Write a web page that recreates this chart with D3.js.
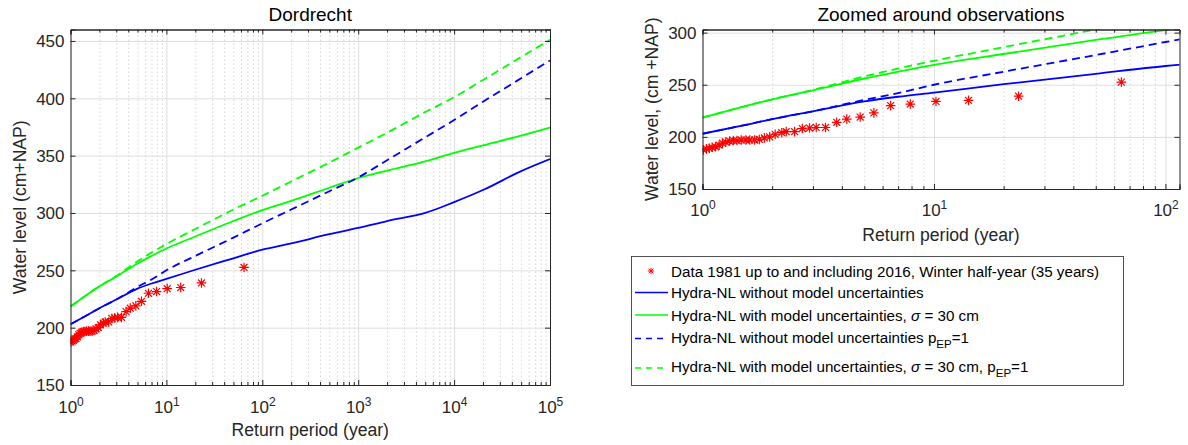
<!DOCTYPE html>
<html>
<head>
<meta charset="utf-8">
<script src="https://cdn.jsdelivr.net/npm/d3@7"></script>
<style>
  body { margin: 0; background: #fff; }
  svg { font-family: "Liberation Sans", Arial, Helvetica, sans-serif; }
</style>
</head>
<body>
<svg id="chart" width="1188" height="445"></svg>
<script>
const returnPeriod = [1, 1.5, 2, 3, 5, 7, 10, 20, 50, 100, 200, 500, 1000, 2000, 5000, 10000, 20000, 50000, 100000];

// Water levels (cm+NAP)
const hydraNoUnc    = [203, 211, 217, 224.5, 234, 238.5, 242.5, 250.5, 260.5, 268, 273.5, 281.5, 287, 293, 300, 309.5, 320, 336.5, 347];
const hydraUnc      = [218.5, 229, 236, 244.5, 256, 262.5, 269, 279.5, 293, 302.5, 310.5, 322, 330.5, 337, 345, 352.5, 359, 367.5, 374.5];
const hydraNoUncPep = [203, 211, 217, 224.5, 235.5, 242, 250, 262.5, 278.5, 291, 303, 319, 331, 346, 366, 381, 397, 417.5, 433];
const hydraUncPep   = [218.5, 229, 236, 245, 258, 265.5, 273, 286, 303, 315, 327.5, 344, 357, 370, 388, 401, 416, 436, 451];

// Observed winter maxima 1981-2016 with their empirical return periods
const obsPeriod = [64.5, 23.2, 14.1, 10.2, 7.9, 6.5, 5.5, 4.8, 4.2, 3.8, 3.4, 3.1, 2.9, 2.7, 2.5, 2.3, 2.2, 2.06,
  1.95, 1.85, 1.76, 1.68, 1.6, 1.54, 1.47, 1.41, 1.36, 1.31, 1.26, 1.22, 1.18, 1.14, 1.1, 1.07, 1.04, 1.01];
const obsLevel = [252.5, 239, 235, 234, 231.5, 230, 223, 219, 217, 214, 209, 209, 208.5, 208, 205, 205, 204, 202.5,
  200, 199, 197.5, 197, 197, 197, 197, 196.5, 196.5, 196, 195, 194, 192, 190.5, 190, 189, 188.5, 187.5];

const legendLabels = [
  "Data 1981 up to and including 2016, Winter half-year (35 years)",
  "Hydra-NL without model uncertainties",
  "Hydra-NL with model uncertainties, ",
  "Hydra-NL without model uncertainties p",
  "Hydra-NL with model uncertainties, "
];

const series = [
  { values: hydraNoUnc, color: "#0000ff", dash: null },
  { values: hydraUnc, color: "#00ff00", dash: null },
  { values: hydraNoUncPep, color: "#0000ff", dash: "8,5" },
  { values: hydraUncPep, color: "#00ff00", dash: "8,5" }
];

const svg = d3.select("#chart");
const axisColor = "#262626";
const tickFont = 17;

// MATLAB-like asterisk marker
function asterisk(r) {
  const d = r * 0.72;
  return `M${-r},0H${r}M0,${-r}V${r}M${-d},${-d}L${d},${d}M${-d},${d}L${d},${-d}`;
}

function drawPanel(p) {
  const g = svg.append("g");
  const x = d3.scaleLog().domain(p.xDomain).range([p.left, p.right]);
  const y = d3.scaleLinear().domain(p.yDomain).range([p.bottom, p.top]);
  const w = p.right - p.left;
  const h = p.bottom - p.top;

  const majorX = [];
  const minorX = [];
  for (let e = 0; Math.pow(10, e) <= p.xDomain[1]; e++) {
    majorX.push(Math.pow(10, e));
    for (let k = 2; k <= 9; k++) {
      const v = k * Math.pow(10, e);
      if (v < p.xDomain[1]) minorX.push(v);
    }
  }

  // grid
  g.append("g").attr("transform", `translate(0,${p.bottom})`)
    .call(d3.axisBottom(x).tickValues(minorX).tickSize(-h).tickFormat(""))
    .call(a => a.select(".domain").remove())
    .selectAll("line").attr("stroke", "#d6d6d6").attr("stroke-dasharray", "1.5,2.5");
  g.append("g").attr("transform", `translate(0,${p.bottom})`)
    .call(d3.axisBottom(x).tickValues(majorX).tickSize(-h).tickFormat(""))
    .call(a => a.select(".domain").remove())
    .selectAll("line").attr("stroke", "#dfdfdf");
  g.append("g").attr("transform", `translate(${p.left},0)`)
    .call(d3.axisLeft(y).tickValues(p.yTicks).tickSize(-w).tickFormat(""))
    .call(a => a.select(".domain").remove())
    .selectAll("line").attr("stroke", "#dfdfdf");

  // data
  const clipId = "clip-" + p.id;
  svg.append("clipPath").attr("id", clipId)
    .append("rect").attr("x", p.left).attr("y", p.top).attr("width", w).attr("height", h);
  const plot = g.append("g").attr("clip-path", `url(#${clipId})`);

  const line = d3.line()
    .x((d, i) => x(returnPeriod[i]))
    .y(d => y(d))
    .curve(d3.curveMonotoneX);

  series.forEach(s => {
    plot.append("path")
      .attr("d", line(s.values))
      .attr("fill", "none")
      .attr("stroke", s.color)
      .attr("stroke-width", 1.8)
      .attr("stroke-dasharray", s.dash);
  });

  plot.selectAll(".obs")
    .data(obsLevel)
    .enter()
    .append("path")
    .attr("class", "obs")
    .attr("transform", (d, i) => `translate(${x(obsPeriod[i])},${y(d)})`)
    .attr("d", asterisk(4.8))
    .attr("stroke", "#ff0000")
    .attr("stroke-width", 1.2)
    .attr("fill", "none");

  // axes (ticks pointing inwards, mirrored on top and right)
  const styleAxis = a => {
    a.select(".domain").attr("stroke", axisColor);
    a.selectAll(".tick line").attr("stroke", axisColor);
  };

  g.append("g").attr("transform", `translate(0,${p.bottom})`)
    .call(d3.axisBottom(x).tickValues(minorX).tickSize(-3).tickFormat(""))
    .call(styleAxis);
  g.append("g").attr("transform", `translate(0,${p.top})`)
    .call(d3.axisTop(x).tickValues(minorX).tickSize(-3).tickFormat(""))
    .call(styleAxis);
  g.append("g").attr("transform", `translate(0,${p.top})`)
    .call(d3.axisTop(x).tickValues(majorX).tickSize(-5).tickFormat(""))
    .call(styleAxis);
  g.append("g").attr("transform", `translate(${p.right},0)`)
    .call(d3.axisRight(y).tickValues(p.yTicks).tickSize(-5).tickFormat(""))
    .call(styleAxis);

  g.append("g").attr("transform", `translate(${p.left},0)`)
    .call(d3.axisLeft(y).tickValues(p.yTicks).tickSize(-5).tickPadding(6))
    .call(styleAxis)
    .call(a => a.selectAll(".tick text")
      .attr("fill", axisColor)
      .attr("font-size", tickFont)
      .attr("font-family", null)
      .attr("dy", "0.34em"));

  g.append("g").attr("transform", `translate(0,${p.bottom})`)
    .call(d3.axisBottom(x).tickValues(majorX).tickSize(-5).tickFormat(() => ""))
    .call(styleAxis)
    .call(a => a.selectAll(".tick text")
      .attr("fill", axisColor)
      .attr("font-size", tickFont)
      .attr("font-family", null)
      .attr("dy", null)
      .attr("y", p.xTickBaseline)
      .each(function (d) {
        const t = d3.select(this);
        t.append("tspan").text("10");
        t.append("tspan").attr("dy", -7).attr("font-size", 12).text(Math.round(Math.log10(d)));
      }));

  // titles and axis labels
  g.append("text")
    .attr("x", (p.left + p.right) / 2)
    .attr("y", p.titleBaseline)
    .attr("text-anchor", "middle")
    .attr("font-size", 19)
    .attr("fill", "#000")
    .text(p.title);

  g.append("text")
    .attr("x", (p.left + p.right) / 2)
    .attr("y", p.xLabelBaseline)
    .attr("text-anchor", "middle")
    .attr("font-size", 17.6)
    .attr("fill", axisColor)
    .text("Return period (year)");

  g.append("text")
    .attr("transform", `translate(${p.yLabelX},${(p.top + p.bottom) / 2}) rotate(-90)`)
    .attr("text-anchor", "middle")
    .attr("font-size", 17.6)
    .attr("fill", axisColor)
    .text(p.yLabel);
}

drawPanel({
  id: "full", left: 70.5, right: 550, top: 29.5, bottom: 385,
  xDomain: [1, 1e5], yDomain: [150, 460], yTicks: d3.range(150, 451, 50),
  title: "Dordrecht", titleBaseline: 21,
  xTickBaseline: 28, xLabelBaseline: 436,
  yLabel: "Water level (cm+NAP)", yLabelX: 26
});

drawPanel({
  id: "zoom", left: 702.5, right: 1179.5, top: 29.5, bottom: 189,
  xDomain: [1, 115], yDomain: [150, 303], yTicks: d3.range(150, 301, 50),
  title: "Zoomed around observations", titleBaseline: 21,
  xTickBaseline: 27, xLabelBaseline: 241,
  yLabel: "Water level, (cm +NAP)", yLabelX: 658
});

// legend
const legend = svg.append("g");
legend.append("rect")
  .attr("x", 631.5).attr("y", 256.5).attr("width", 492).attr("height", 129)
  .attr("fill", "#fff").attr("stroke", axisColor).attr("stroke-width", 0.8);

const rowLine = [271, 292.5, 315, 338.5, 368];
const rowText = [276.5, 298, 320.5, 343, 372];

legend.append("path")
  .attr("transform", `translate(651,${rowLine[0]})`)
  .attr("d", asterisk(3.2))
  .attr("stroke", "#ff0000")
  .attr("stroke-width", 1)
  .attr("fill", "none");

series.forEach((s, i) => {
  legend.append("line")
    .attr("x1", 635).attr("x2", 668)
    .attr("y1", rowLine[i + 1]).attr("y2", rowLine[i + 1])
    .attr("stroke", s.color)
    .attr("stroke-width", 1.6)
    .attr("stroke-dasharray", s.dash ? "6,5" : null);
});

legendLabels.forEach((label, i) => {
  const t = legend.append("text")
    .attr("x", 671).attr("y", rowText[i])
    .attr("font-size", 15.2)
    .attr("fill", "#000");
  t.append("tspan").text(label);
  if (i === 2 || i === 4) {
    t.append("tspan").attr("font-style", "italic").text("σ");
    t.append("tspan").text(i === 2 ? " = 30 cm" : " = 30 cm, p");
  }
  if (i === 3 || i === 4) {
    t.append("tspan").attr("dy", 5).attr("font-size", 11.5).text("EP");
    t.append("tspan").attr("dy", -5).text("=1");
  }
});
</script>
</body>
</html>
